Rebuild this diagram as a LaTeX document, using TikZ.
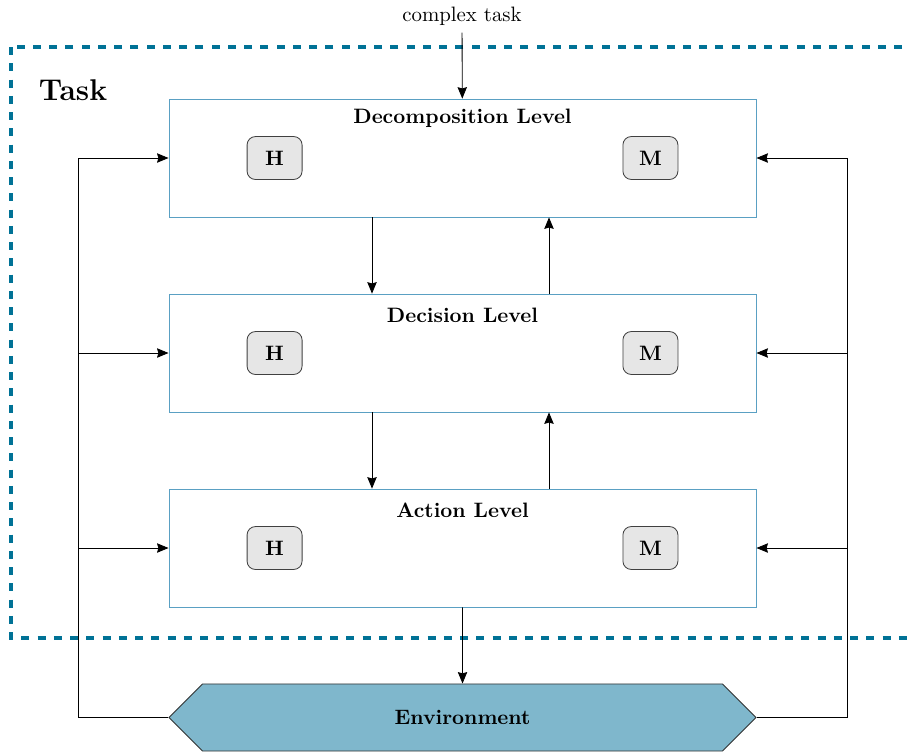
\documentclass[tikz,border=0pt]{standalone}
\usetikzlibrary{positioning,shapes.symbols,arrows.meta}

\definecolor{framecol}{RGB}{0,114,150}
\definecolor{levelcol}{RGB}{90,160,195}
\definecolor{envcol}{RGB}{127,183,204}
\definecolor{agentcol}{RGB}{230,230,230}

\tikzset{
  level/.style={draw=levelcol, minimum width=281.8pt, minimum height=56.6pt, inner sep=0pt},
  agent/.style={draw=black!75, fill=agentcol, rounded corners=4pt, minimum width=26.4pt, minimum height=20.6pt, font=\bfseries},
  title/.style={font=\bfseries, inner sep=0pt, anchor=south},
  envbox/.style={signal, signal to=west and east, signal pointer angle=90, draw=black!80, fill=envcol,
    minimum width=281.8pt, minimum height=32.2pt, inner sep=0pt, font=\bfseries},
  arr/.style={-{Stealth[length=5.5pt, width=4.5pt, inset=0.6pt]}, thin}
}

\begin{document}
\begin{tikzpicture}[x=0.48pt, y=-0.48pt]
\useasboundingbox (0,0) rectangle (907,753);

% task frame
\draw[framecol, line width=1.5pt, dash pattern=on 3.9pt off 3.9pt] (11,47) rectangle (930,638);
\node[font=\Large\bfseries] (task) at (73,90) {Task};

% the three levels
\node[level] (dec) at (462.5,158) {};
\node[level] (deci) at (462.5,353) {};
\node[level] (act) at (462.5,548) {};
\node[title] (dect) at ([yshift=-14.3pt]dec.north) {Decomposition Level};
\node[title] (decit) at ([yshift=-14.3pt]deci.north) {Decision Level};
\node[title] (actt) at ([yshift=-14.3pt]act.north) {Action Level};

\node[agent] (h1) at ([xshift=-90.2pt]dec.center) {H};
\node[agent] (m1) at ([xshift=90.2pt]dec.center) {M};
\node[agent] (h2) at ([xshift=-90.2pt]deci.center) {H};
\node[agent] (m2) at ([xshift=90.2pt]deci.center) {M};
\node[agent] (h3) at ([xshift=-90.2pt]act.center) {H};
\node[agent] (m3) at ([xshift=90.2pt]act.center) {M};

\node[envbox] (env) at (462.5,717.5) {Environment};

\node (ct) at (462,16) {complex task};
\draw[arr] (ct) -- (dec);

% between levels
\draw[arr] (dec.south -| 372,0) -- (deci.north -| 372,0);
\draw[arr] (deci.north -| 549,0) -- (dec.south -| 549,0);
\draw[arr] (deci.south -| 372,0) -- (act.north -| 372,0);
\draw[arr] (act.north -| 549,0) -- (deci.south -| 549,0);
\draw[arr] (act) -- (env);

% feedback from the environment
\coordinate (lt) at (78,158);
\coordinate (rt) at (847,158);
\draw[arr] (env.west) -| (lt) -- (dec.west);
\draw[arr] (lt |- deci.west) -- (deci.west);
\draw[arr] (lt |- act.west) -- (act.west);
\draw[arr] (env.east) -| (rt) -- (dec.east);
\draw[arr] (rt |- deci.east) -- (deci.east);
\draw[arr] (rt |- act.east) -- (act.east);
\end{tikzpicture}
\end{document}
